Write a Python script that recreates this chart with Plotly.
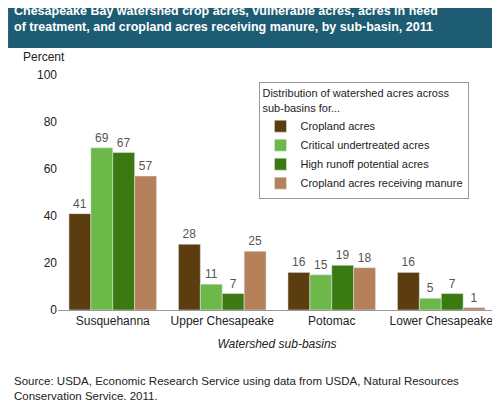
import plotly.graph_objects as go

basins = ["Susquehanna", "Upper Chesapeake", "Potomac", "Lower Chesapeake"]
series_names = ["Cropland acres", "Critical undertreated acres",
                "High runoff potential acres", "Cropland acres receiving manure"]
cropland = [41, 28, 16, 16]
critical = [69, 11, 15, 5]
runoff = [67, 7, 19, 7]
manure = [57, 25, 18, 1]
colors = ["#5b3d0f", "#6cb848", "#3b7a10", "#b5805a"]

fig = go.Figure()
for name, vals, c in zip(series_names, [cropland, critical, runoff, manure], colors):
    fig.add_trace(go.Bar(x=basins, y=vals, name=name, marker_color=c,
                         text=vals, textposition="outside",
                         textfont=dict(size=12, color="#555"), cliponaxis=False))

fig.update_layout(
    width=500, height=400, barmode="group", bargap=0.2, bargroupgap=0,
    plot_bgcolor="white", paper_bgcolor="white",
    font=dict(family="Arial, Liberation Sans", size=12, color="#222"),
    margin=dict(l=50, r=12, t=67, b=98),
    yaxis=dict(range=[0, 100], dtick=20, showgrid=False, showline=False,
               ticks="", zeroline=False),
    xaxis=dict(showline=True, linecolor="#999", ticks="", tickfont=dict(size=12),
               title=dict(text="<i>Watershed sub-basins</i>", standoff=12, font=dict(size=12))),
    legend=dict(x=0.46, y=0.97, xanchor="left", yanchor="top",
                bordercolor="#999", borderwidth=1, bgcolor="white",
                font=dict(size=11), tracegroupgap=0,
                title=dict(text="Distribution of watershed acres across<br>sub-basins for...",
                           font=dict(size=11), side="top")),
)
fig.add_shape(type="rect", xref="paper", yref="paper", x0=-0.114, x1=1.028,
              y0=1.115, y1=1.33, fillcolor="#1d5c72", line_width=0)
fig.add_annotation(text="<b>Chesapeake Bay watershed crop acres, vulnerable acres, acres in need<br>of treatment, and cropland acres receiving manure, by sub-basin, 2011</b>",
                   xref="paper", yref="paper", x=-0.105, y=1.31, xanchor="left", yanchor="top",
                   showarrow=False, align="left", font=dict(color="white", size=12.5))
fig.add_annotation(text="Percent", xref="paper", yref="paper", x=-0.085, y=1.04,
                   xanchor="left", yanchor="bottom", showarrow=False, font=dict(size=12))
fig.add_annotation(text="Source: USDA, Economic Research Service using data from USDA, Natural Resources<br>Conservation Service, 2011.",
                   xref="paper", yref="paper", x=-0.105, y=-0.27, xanchor="left", yanchor="top",
                   showarrow=False, align="left", font=dict(size=11.5))
fig.write_html("out.html")
